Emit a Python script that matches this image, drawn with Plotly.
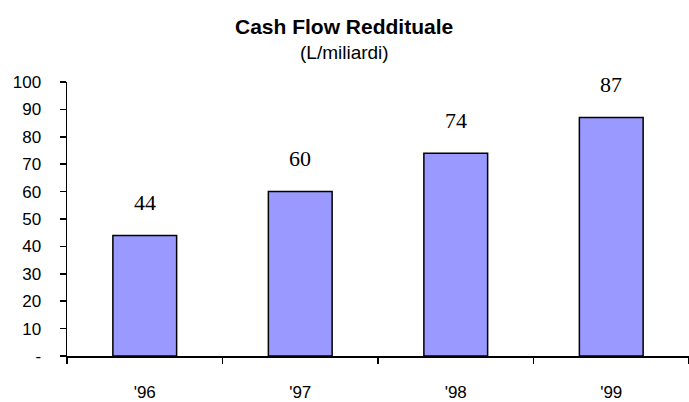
import plotly.graph_objects as go

categories = ["'96", "'97", "'98", "'99"]
values = [44, 60, 74, 87]
y_tickvals = [0, 10, 20, 30, 40, 50, 60, 70, 80, 90, 100]
y_ticktext = ["-", "10", "20", "30", "40", "50", "60", "70", "80", "90", "100"]

fig = go.Figure()
fig.add_trace(go.Bar(
    x=categories, y=values, width=0.41,
    marker=dict(color="#9999FF", line=dict(color="black", width=1.5)),
    hoverinfo="skip",
))

for c, v in zip(categories, values):
    fig.add_annotation(x=c, y=v, text=str(v), showarrow=False, yshift=33,
                       yanchor="middle",
                       font=dict(family="Liberation Serif", size=22, color="black"))

cx = (344 - 67) / 622
fig.add_annotation(xref="paper", yref="paper", x=cx, y=1, yshift=56, yanchor="middle",
                   text="<b>Cash Flow Reddituale</b>", showarrow=False,
                   font=dict(family="Liberation Sans", size=21, color="black"))
fig.add_annotation(xref="paper", yref="paper", x=cx, y=1, yshift=30, yanchor="middle",
                   text="(L/miliardi)", showarrow=False,
                   font=dict(family="Liberation Sans", size=19, color="black"))

fig.update_layout(
    width=689, height=402,
    margin=dict(l=67, r=0, t=82, b=44),
    paper_bgcolor="white", plot_bgcolor="white",
    showlegend=False, bargap=0,
)
fig.update_xaxes(
    type="category", range=[-0.5, 3.5], tickson="boundaries",
    ticks="outside", ticklen=6, tickwidth=1.5, tickcolor="black",
    showline=True, linecolor="black", linewidth=1.5,
    showgrid=False, zeroline=False, ticklabelstandoff=20,
    tickfont=dict(family="Liberation Sans", size=17, color="black"),
)
fig.update_yaxes(
    range=[0, 100], tickvals=y_tickvals, ticktext=y_ticktext,
    ticks="outside", ticklen=6, tickwidth=1.5, tickcolor="black",
    showline=True, linecolor="black", linewidth=1.5,
    showgrid=False, zeroline=False, ticklabelstandoff=15,
    tickfont=dict(family="Liberation Sans", size=17, color="black"),
)

fig.write_html("out.html", config={"displayModeBar": False, "staticPlot": True})
with open("out.html", "r", encoding="utf-8") as f:
    html = f.read()
html = html.replace("<body>", '<body style="margin:0;padding:0;">', 1)
with open("out.html", "w", encoding="utf-8") as f:
    f.write(html)
